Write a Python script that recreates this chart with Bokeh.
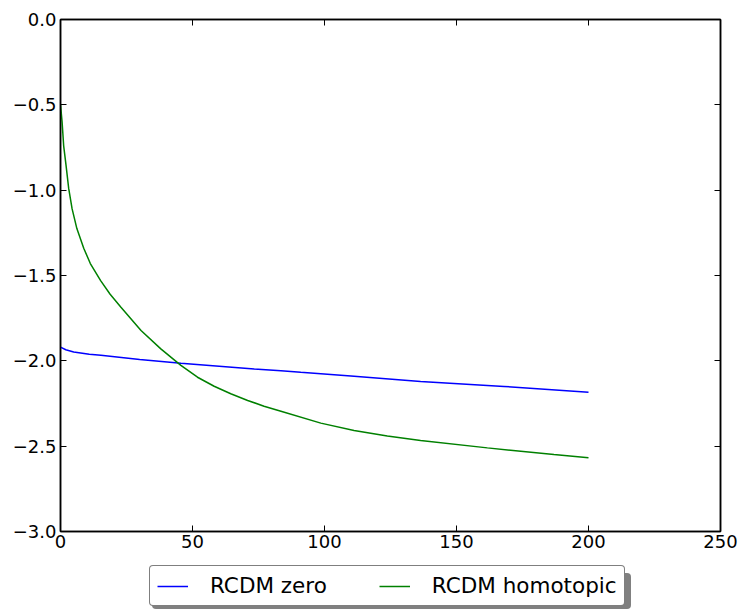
from bokeh.plotting import figure
from bokeh.models import (LinearAxis, FixedTicker, CustomJSTickFormatter, Legend,
                          LegendItem, Range1d)
from bokeh.layouts import column
from bokeh.embed import file_html
from bokeh.resources import INLINE

# ---- data ----
zero_x = [0, 2, 5, 10.9, 15.3, 30, 45.6, 73.4, 83.5, 91, 110, 136.4, 168, 200]
zero_y = [-1.92, -1.935, -1.948, -1.961, -1.967, -1.992, -2.014, -2.048,
          -2.058, -2.067, -2.089, -2.121, -2.150, -2.184]

homo_x = [0, 0.6, 1.2, 2.1, 3.1, 4.4, 6.2, 8.8, 11.3, 15.2, 18.8, 22.9, 30.5,
          38, 45.6, 51.9, 58.2, 64.5, 70.9, 77.1, 83.5, 98.6, 111.2, 123.8,
          136.4, 161.7, 186.9, 200]
homo_y = [-0.50, -0.60, -0.74, -0.855, -0.99, -1.11, -1.225, -1.34, -1.43,
          -1.53, -1.61, -1.686, -1.822, -1.93, -2.027, -2.096, -2.149, -2.193,
          -2.232, -2.266, -2.295, -2.365, -2.408, -2.44, -2.467, -2.51,
          -2.549, -2.568]

x_ticks = [0, 50, 100, 150, 200, 250]
y_ticks = [0.0, -0.5, -1.0, -1.5, -2.0, -2.5, -3.0]
labels = ["RCDM zero", "RCDM homotopic"]
colors = ["#0000ff", "#008000"]

FONT = "DejaVu Sans"

p = figure(output_backend="svg", toolbar_location=None,
           frame_width=660, frame_height=512,
           min_border_left=60, min_border_right=20,
           min_border_top=19, min_border_bottom=30,
           x_range=Range1d(0, 250), y_range=Range1d(-3.0, 0.0),
           x_axis_location=None, y_axis_location=None)
p.xgrid.visible = False
p.ygrid.visible = False
p.outline_line_color = "black"
p.outline_line_width = 1.5
p.background_fill_color = "white"
p.border_fill_color = "white"

r1 = p.line(zero_x, zero_y, line_color=colors[0], line_width=1.5)
r2 = p.line(homo_x, homo_y, line_color=colors[1], line_width=1.5)

yfmt = CustomJSTickFormatter(code="return (tick < 0 ? '\\u2212' : '') + Math.abs(tick).toFixed(1);")
xfmt = CustomJSTickFormatter(code="return tick.toFixed(0);")

def make_axis(ticks, fmt, show_labels, standoff):
    ax = LinearAxis(ticker=FixedTicker(ticks=ticks), formatter=fmt)
    ax.axis_line_color = "black"
    ax.axis_line_width = 1.5
    ax.major_tick_in = 6
    ax.major_tick_out = 0
    ax.major_tick_line_width = 1.0
    ax.minor_tick_in = 0
    ax.minor_tick_out = 0
    ax.major_label_standoff = standoff
    ax.major_label_text_font = FONT
    ax.major_label_text_font_size = "18px"
    ax.major_label_text_color = "black"
    if not show_labels:
        ax.major_label_text_alpha = 0
        ax.major_label_text_font_size = "1px"
    return ax

p.add_layout(make_axis(x_ticks, xfmt, True, 3), "below")
p.add_layout(make_axis(y_ticks, yfmt, True, 4), "left")
p.add_layout(make_axis(x_ticks, xfmt, False, 0), "above")
p.add_layout(make_axis(y_ticks, yfmt, False, 0), "right")

# ---- legend strip below the axes (same series, drawn outside its view) ----
q = figure(output_backend="svg", toolbar_location=None,
           width=740, height=48, min_border=0,
           x_range=Range1d(0, 250), y_range=Range1d(10, 11),
           x_axis_location=None, y_axis_location=None)
q.xgrid.visible = False
q.ygrid.visible = False
q.outline_line_color = None
q.background_fill_color = "white"
q.border_fill_color = "white"
k1 = q.line(zero_x, zero_y, line_color=colors[0], line_width=1.5)
k2 = q.line(homo_x, homo_y, line_color=colors[1], line_width=1.5)

def style_legend(lg):
    lg.orientation = "horizontal"
    lg.label_text_font = FONT
    lg.label_text_font_size = "21.5px"
    lg.glyph_width = 31
    lg.glyph_height = 20
    lg.label_standoff = 22
    lg.padding = 7
    lg.margin = 0
    lg.border_line_width = 1.5
    lg.background_fill_alpha = 1.0
    try:
        lg.border_radius = 4
    except Exception:
        pass

# shadow box (single blank item sized to the real legend)
shadow = Legend(items=[LegendItem(label=" ", renderers=[k1])], location=(92, 0))
style_legend(shadow)
shadow.label_width = 410
shadow.spacing = 0
shadow.background_fill_color = "#808080"
shadow.border_line_color = "#808080"
shadow.label_text_color = "#808080"

main = Legend(items=[LegendItem(label=labels[0], renderers=[k1]),
                     LegendItem(label=labels[1], renderers=[k2])],
              location=(89, 3))
style_legend(main)
main.spacing = 52
main.background_fill_color = "white"
main.border_line_color = "black"
main.label_text_color = "black"

q.add_layout(shadow, "center")
q.add_layout(main, "center")

layout = column(p, q, spacing=0)
open("out.html", "w").write(file_html(layout, INLINE))
